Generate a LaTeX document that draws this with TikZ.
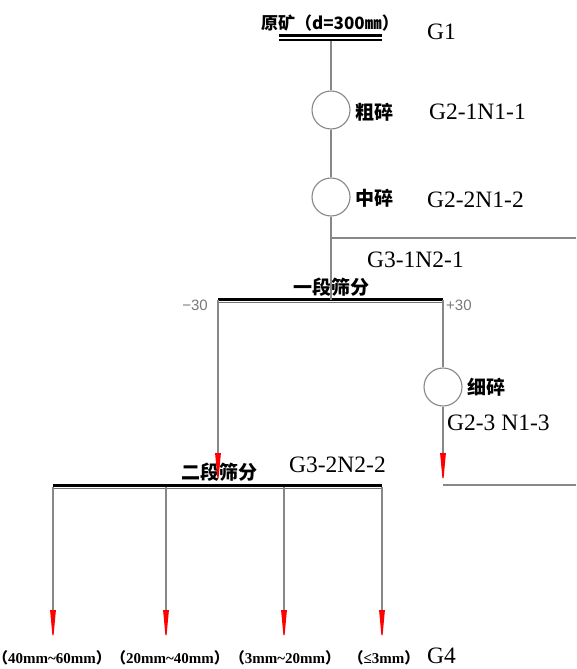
\documentclass[tikz,border=0pt]{standalone}
\usepackage{fontspec}
\setmainfont{Liberation Serif}
\newfontfamily\cjk{Noto Sans CJK SC}
\newfontfamily\sfl{Liberation Sans}
\usetikzlibrary{arrows.meta}
\definecolor{lgray}{RGB}{135,135,135}
\definecolor{pmgray}{RGB}{120,120,120}
\begin{document}
\begin{tikzpicture}[x=1pt,y=-1pt,
  ln/.style={draw=lgray, line width=1.2pt},
  thickbar/.style={draw=black, line width=3.4pt},
  subbar/.style={draw=black!55, line width=1pt},
  redarr/.style={ln, -{Triangle[length=32pt,width=5.5pt,color=red]}},
  circ/.style={circle, draw=lgray, line width=1.1pt, fill=white, minimum size=38pt, inner sep=0pt},
  cjkl/.style={font=\cjk\bfseries\fontsize{19}{19}\selectfont, inner sep=0pt},
  ttl/.style={font=\cjk\bfseries\fontsize{17}{17}\selectfont, inner sep=0pt},
  glab/.style={font=\fontsize{23.5}{23.5}\selectfont, inner sep=0pt},
  pm/.style={font=\sfl\fontsize{15}{15}\selectfont, text=pmgray, inner sep=0pt},
  blab/.style={font=\bfseries\fontsize{15}{15}\selectfont, inner sep=0pt}
]
\useasboundingbox (0,0) rectangle (576,669);

% top
\node[ttl] (t) at (330,23) {原矿（d=300㎜）};
\node[glab, anchor=west] (g1) at (427,32) {G1};
\coordinate (b0L) at (279,35.5); \coordinate (b0R) at (382,35.5);
\coordinate (b1L) at (279,40); \coordinate (b1R) at (382,40);
\draw[draw=black, line width=2.3pt] (b0L) -- (b0R);
\draw[draw=black, line width=2.3pt] (b1L) -- (b1R);
\coordinate (b0) at (331,41);

% crushers
\node[circ] (c1) at (331,110) {};
\node[cjkl, anchor=west] (l1) at (355,112) {粗碎};
\node[glab, anchor=west] (g21) at (429,112) {G2-1N1-1};
\node[circ] (c2) at (331,197) {};
\node[cjkl, anchor=west] (l2) at (355,198) {中碎};
\node[glab, anchor=west] (g22) at (427,200) {G2-2N1-2};

\coordinate (j1) at (331,238);
\coordinate (r1) at (576,238);
\node[glab, anchor=west] (g31) at (367,260) {G3-1N2-1};

% first screening
\node[cjkl] (s1) at (331,287) {一段筛分};
\coordinate (s1L) at (218,299.5);
\coordinate (s1M) at (331,299.5);
\coordinate (s1R) at (443,299.5);
\draw[subbar] ([yshift=-2.8pt]s1L) -- ([yshift=-2.8pt]s1R);
\draw[thickbar] (s1L) -- (s1R);
\node[pm, anchor=east] (m30) at (208,305) {−30};
\node[pm, anchor=west] (p30) at (446,305) {+30};

\node[circ] (c3) at (443,387) {};
\node[cjkl, anchor=west] (l3) at (467,387) {细碎};
\node[glab, anchor=west] (g23) at (447,423) {G2-3 N1-3};
\coordinate (a3) at (443,485);
\coordinate (r3) at (576,485);

% second screening
\node[cjkl] (s2) at (219,472) {二段筛分};
\node[glab, anchor=west] (g32) at (289,465) {G3-2N2-2};
\coordinate (a1) at (218,485);
\coordinate (s2L) at (53,485.5);
\coordinate (s2R) at (382,485.5);
\draw[subbar] ([yshift=-2.8pt]s2L) -- ([yshift=-2.8pt]s2R);
\draw[thickbar] (s2L) -- (s2R);

\coordinate (q1) at (53,487);  \coordinate (p1) at (53,642);
\coordinate (q2) at (166,487); \coordinate (p2) at (166,642);
\coordinate (q3) at (284,487); \coordinate (p3) at (284,642);
\coordinate (q4) at (382,487); \coordinate (p4) at (382,642);

% connectors
\draw[ln] (b0) -- (c1);
\draw[ln] (c1) -- (c2);
\draw[ln] (c2) -- (s1M);
\draw[ln] (j1) -- (r1);
\draw[redarr] (s1L) -- (a1);
\draw[ln] (s1R) -- (c3);
\draw[redarr] (c3) -- (a3);
\draw[ln] (a3) -- (r3);
\draw[redarr] (q1) -- (p1);
\draw[redarr] (q2) -- (p2);
\draw[redarr] (q3) -- (p3);
\draw[redarr] (q4) -- (p4);

% bottom labels
\node[blab] (o1) at (52,658) {{\cjk（}40mm\textasciitilde60mm{\cjk ）}};
\node[blab] (o2) at (170,658) {{\cjk（}20mm\textasciitilde40mm{\cjk ）}};
\node[blab] (o3) at (285,658) {{\cjk（}3mm\textasciitilde20mm{\cjk ）}};
\node[blab] (o4) at (384,658) {{\cjk（}≤3mm{\cjk ）}};
\node[glab, anchor=west] (g4) at (427,656) {G4};
\end{tikzpicture}
\end{document}
